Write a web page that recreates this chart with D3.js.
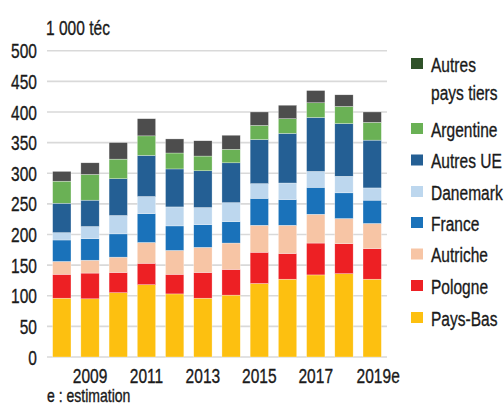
<!DOCTYPE html>
<html>
<head>
<meta charset="utf-8">
<script src="https://cdn.jsdelivr.net/npm/d3@7"></script>
<style>
  body { margin: 0; background: #fff; }
  svg text { font-family: "Liberation Sans", Arial, sans-serif; fill: #1a1a1a; stroke: #1a1a1a; stroke-width: 0.35; }
</style>
</head>
<body>
<svg id="chart" width="504" height="406"></svg>
<script>
// years and the odd-year labels shown under the axis
let years = ["2008", "2009", "2010", "2011", "2012", "2013", "2014", "2015", "2016", "2017", "2018", "2019e"];
let yearLabels = ["2009", "2011", "2013", "2015", "2017", "2019e"];
let yTicks = [0, 50, 100, 150, 200, 250, 300, 350, 400, 450, 500];

// series, bottom to top (1 000 téc)
let seriesNames = ["Pays-Bas", "Pologne", "Autriche", "France", "Danemark", "Autres UE", "Argentine", "Autres pays tiers"];
let paysBas   = [96, 95, 105, 118, 103, 96, 101, 120, 127, 134, 136, 127];
let pologne   = [39, 42, 33, 35, 32, 42, 42, 51, 42, 52, 49, 50];
let autriche  = [21, 21, 25, 34, 39, 41, 43, 44, 46, 47, 41, 41];
let france    = [35, 35, 38, 47, 40, 37, 35, 44, 42, 44, 42, 38];
let danemark  = [12, 20, 30, 28, 31, 28, 31, 24, 27, 26, 27, 20];
let autresUE  = [48, 43, 60, 67, 62, 60, 65, 72, 81, 88, 86, 78];
let argentine = [36, 42, 32, 32, 26, 24, 22, 23, 24, 24, 28, 29];
let autresTiers = [16, 19, 27, 28, 23, 25, 23, 22, 22, 20, 19, 17];

let barColors = ["#fdc010", "#ed2024", "#f7c5a5", "#1a72ba", "#bdd7ee", "#245f94", "#6ab155", "#4d4d4d"];
let legendColors = ["#fdc010", "#ed2024", "#f7c5a5", "#1a72ba", "#bdd7ee", "#245f94", "#6ab155", "#2f5229"];

let allSeries = [paysBas, pologne, autriche, france, danemark, autresUE, argentine, autresTiers];
let rows = years.map((y, i) => {
  let r = { year: y };
  seriesNames.forEach((s, k) => { r[s] = allSeries[k][i]; });
  return r;
});

// condensed look: plain font squeezed horizontally
let squeeze = 0.74;
function narrowText(sel, px, py, size, anchor) {
  return sel.append("text")
    .attr("transform", "translate(" + px + "," + py + ") scale(" + squeeze + ",1)")
    .attr("font-size", size)
    .attr("text-anchor", anchor || "start");
}

let svg = d3.select("#chart");

let x = d3.scaleBand().domain(years).range([47, 387]).paddingInner(0.35).paddingOuter(0.2);
let y = d3.scaleLinear().domain([0, 500]).range([357, 50.7]);

// gridlines
svg.append("g").selectAll("line").data(yTicks).join("line")
  .attr("x1", 47).attr("x2", 387)
  .attr("y1", d => y(d)).attr("y2", d => y(d))
  .attr("stroke", "#d9d9d9").attr("stroke-width", 1.6);

// y labels
let yAxisG = svg.append("g");
yTicks.forEach(t => {
  narrowText(yAxisG, 37, y(t), 21, "end").attr("dy", "0.36em").text(t);
});

// bars
let stacked = d3.stack().keys(seriesNames)(rows);
let color = d3.scaleOrdinal().domain(seriesNames).range(barColors);

svg.append("g").selectAll("g").data(stacked).join("g")
  .attr("fill", d => color(d.key))
  .selectAll("rect").data(d => d).join("rect")
  .attr("x", d => x(d.data.year))
  .attr("width", x.bandwidth())
  .attr("y", d => y(d[1]))
  .attr("height", d => y(d[0]) - y(d[1]))
  .attr("stroke", "#fff").attr("stroke-width", 0.5).attr("stroke-opacity", 0.6);

// x labels
let xAxisG = svg.append("g");
yearLabels.forEach(l => {
  let cx = x(l) + x.bandwidth() / 2 + (l.endsWith("e") ? 6 : 0);
  narrowText(xAxisG, cx, 383, 21, "middle").text(l);
});

// unit and note
narrowText(svg, 46, 35, 21).text("1 000 téc");
narrowText(svg, 47, 402, 18).attr("transform", "translate(47,402) scale(0.78,1)").text("e : estimation");

// legend, top to bottom
let legendOrder = seriesNames.slice().reverse();
let legendY = [64, 129, 160.5, 192, 223, 254.5, 286, 318];
let legend = svg.append("g");
legendOrder.forEach((name, i) => {
  let k = seriesNames.indexOf(name);
  let cy = legendY[i];
  legend.append("rect").attr("x", 411).attr("y", cy - 6).attr("width", 12).attr("height", 11)
    .attr("fill", legendColors[k]);
  let t = narrowText(legend, 431, cy, 21).attr("dy", "0.36em");
  if (name === "Autres pays tiers") {
    t.append("tspan").attr("x", 0).text("Autres");
    t.append("tspan").attr("x", 0).attr("dy", 28).text("pays tiers");
  } else {
    t.text(name);
  }
});
</script>
</body>
</html>
